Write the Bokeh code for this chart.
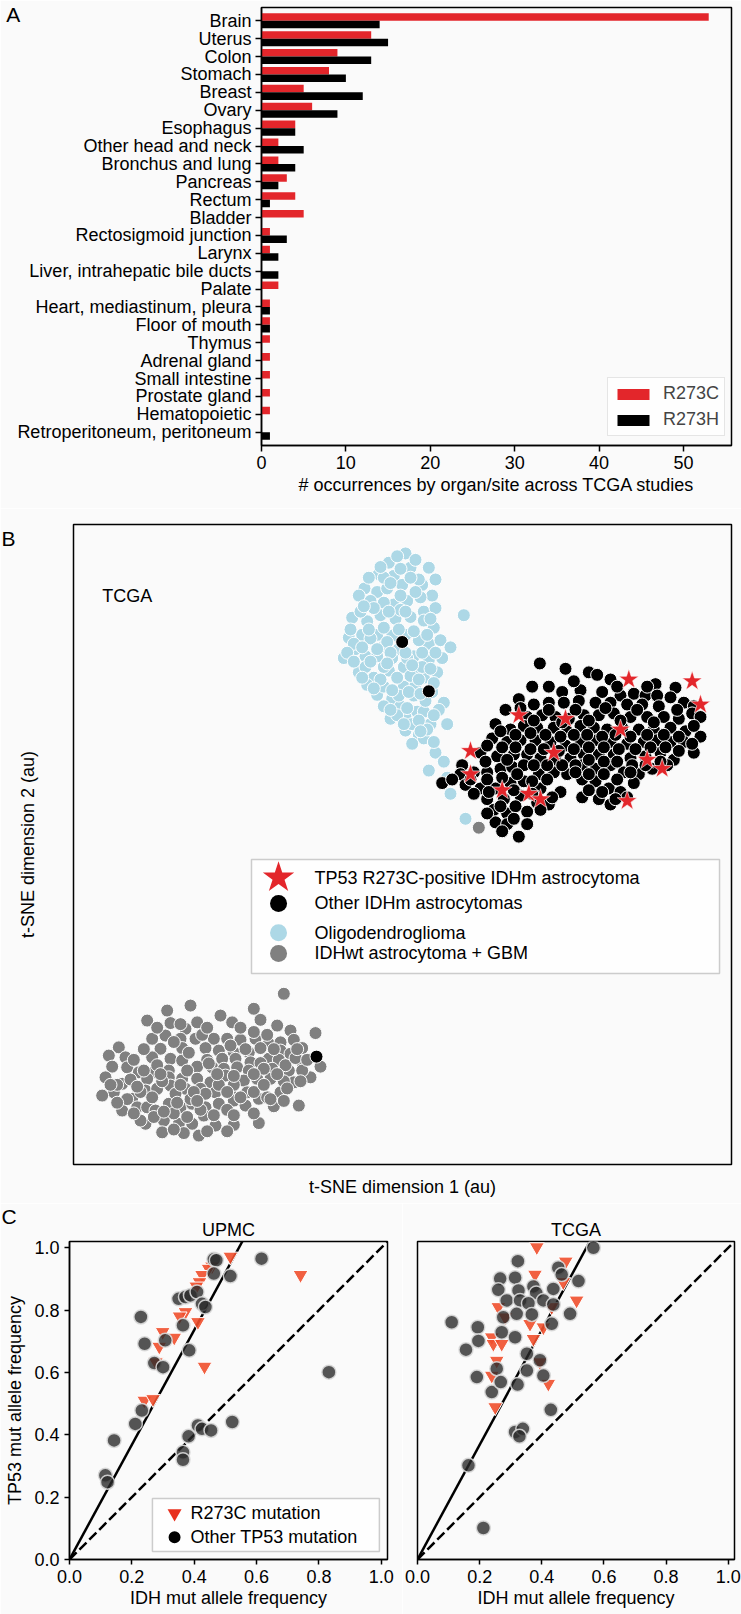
import math
from bokeh.plotting import figure
from bokeh.layouts import column, row
from bokeh.models import (Range1d, FixedTicker, Legend, LegendItem, Label,
                          ColumnDataSource, PrintfTickFormatter)
from bokeh.transform import dodge
from bokeh.core.properties import value
from bokeh.embed import file_html
from bokeh.resources import INLINE

FONT = "Liberation Sans"
BG = "#fafafa"
RED = "#e3262b"
BLUE = "#add8e6"
GRAY = "#808080"

# ---------------- Panel A data ----------------
sites = ["Brain", "Uterus", "Colon", "Stomach", "Breast", "Ovary", "Esophagus",
         "Other head and neck", "Bronchus and lung", "Pancreas", "Rectum", "Bladder",
         "Rectosigmoid junction", "Larynx", "Liver, intrahepatic bile ducts", "Palate",
         "Heart, mediastinum, pleura", "Floor of mouth", "Thymus", "Adrenal gland",
         "Small intestine", "Prostate gland", "Hematopoietic", "Retroperitoneum, peritoneum"]
r273c_counts = [53, 13, 9, 8, 5, 6, 4, 2, 2, 3, 4, 5, 1, 1, 0, 2, 1, 1, 1, 1, 1, 1, 1, 0]
r273h_counts = [14, 15, 13, 10, 12, 9, 4, 5, 4, 2, 1, 0, 3, 2, 2, 0, 1, 1, 0, 0, 0, 0, 0, 1]
count_ticks = [0, 10, 20, 30, 40, 50]

# ---------------- Panel B data (t-SNE, arbitrary units) ----------------
oligo_pts = [
    (1215, 372), (1165, 398), (1135, 430), (1092, 470), (1130, 480), (1180, 435), (1230, 412),
    (1205, 460), (1160, 470), (1180, 515), (1220, 505), (1150, 510), (1110, 505), (1055, 552),
    (1100, 562), (1140, 545), (1185, 555), (1230, 550), (1045, 608), (1085, 600), (1130, 600),
    (1175, 602), (1215, 600), (1030, 665), (1065, 640), (1095, 660), (1150, 632), (1195, 640),
    (1240, 660), (1075, 705), (1120, 720), (1165, 700), (1210, 690), (1250, 700), (1130, 768),
    (1175, 780), (1210, 745), (1245, 740), (1170, 835), (1215, 830), (1250, 815), (1215, 868),
    (1255, 880), (1200, 800), (1150, 690),
    (1285, 412), (1305, 445), (1265, 460), (1295, 490), (1260, 495), (1270, 535), (1305, 525),
    (1390, 545), (1300, 580), (1285, 625), (1320, 615), (1350, 635), (1285, 670), (1325, 665),
    (1270, 720), (1310, 705), (1295, 760), (1330, 790), (1270, 815), (1315, 810), (1340, 850),
    (1290, 850), (1270, 890), (1305, 930), (1330, 955), (1285, 980), (1340, 1000), (1350, 1045),
    (1395, 1115),
    (1190, 380), (1245, 390), (1150, 440), (1105, 440), (1255, 445), (1075, 490), (1200, 490),
    (1245, 480), (1080, 535), (1120, 525), (1200, 530), (1270, 560), (1060, 625), (1110, 610),
    (1160, 620), (1255, 615), (1130, 660), (1175, 665), (1220, 665), (1265, 690), (1095, 690),
    (1100, 740), (1150, 745), (1190, 720), (1230, 715), (1300, 735), (1150, 800), (1195, 770),
    (1240, 770), (1275, 785), (1190, 825), (1235, 850), (1280, 865), (1235, 905), (1300, 900),
    (1140, 410), (1200, 415), (1170, 455), (1230, 440), (1090, 520), (1165, 535), (1215, 535),
    (1290, 555), (1050, 585), (1105, 585), (1150, 580), (1195, 585), (1240, 590), (1280, 600),
    (1040, 650), (1085, 635), (1130, 640), (1170, 650), (1215, 650), (1265, 650), (1305, 650),
    (1060, 675), (1110, 675), (1160, 680), (1235, 685), (1290, 695), (1085, 720), (1140, 725),
    (1255, 725), (1120, 750), (1175, 755), (1225, 760), (1260, 765), (1170, 810), (1220, 805),
    (1255, 840), (1300, 825), (1210, 850), (1260, 870)]

idhwt_pts = [
    (850, 1605), (570, 1638), (500, 1652), (760, 1647), (660, 1666), (440, 1680), (510, 1687),
    (590, 1685), (695, 1685), (780, 1678), (830, 1694), (555, 1703), (870, 1708), (945, 1715),
    (455, 1731), (495, 1722), (540, 1731), (585, 1731), (640, 1731), (680, 1731), (720, 1734),
    (765, 1731), (805, 1745), (840, 1741), (880, 1734), (905, 1757),
    (355, 1755), (480, 1759), (545, 1757), (615, 1757), (655, 1764), (700, 1769), (745, 1769),
    (780, 1757), (840, 1764), (870, 1773),
    (325, 1778), (375, 1783), (455, 1783), (510, 1787), (545, 1792), (620, 1790), (665, 1787),
    (705, 1787), (750, 1797), (805, 1787), (835, 1790), (900, 1792), (960, 1809), (930, 1839),
    (335, 1809), (380, 1811), (415, 1825), (460, 1825), (505, 1820), (590, 1809), (635, 1811),
    (670, 1815), (710, 1811), (745, 1820), (780, 1799), (815, 1815), (865, 1820), (905, 1820),
    (315, 1839), (365, 1857), (440, 1843), (505, 1839), (545, 1843), (590, 1843), (630, 1853),
    (675, 1834), (730, 1848), (770, 1843), (810, 1843), (880, 1853),
    (340, 1881), (305, 1890), (395, 1899), (435, 1876), (470, 1871), (510, 1862), (555, 1871),
    (600, 1871), (645, 1881), (690, 1885), (740, 1881), (775, 1899), (800, 1895), (840, 1881),
    (365, 1932), (410, 1923), (440, 1923), (465, 1932), (505, 1913), (540, 1923), (575, 1913),
    (615, 1923), (655, 1913), (700, 1904), (735, 1918), (895, 1918),
    (435, 1969), (490, 1960), (535, 1969), (575, 1969), (610, 1946), (645, 1974), (700, 1972),
    (775, 1967), (485, 1993), (595, 2002),
    (400, 1790), (430, 1760), (470, 1805), (520, 1740), (565, 1770), (605, 1720), (625, 1800),
    (690, 1750), (735, 1760), (760, 1712), (790, 1815), (820, 1760), (855, 1805), (885, 1785),
    (350, 1860), (390, 1845), (420, 1880), (455, 1895), (485, 1850), (525, 1885), (570, 1900),
    (615, 1885), (655, 1860), (700, 1860), (720, 1895), (760, 1880), (790, 1860), (850, 1850),
    (380, 1900), (460, 1950), (520, 1940), (560, 1950), (600, 1930), (640, 1945), (680, 1930),
    (760, 1940), (820, 1920), (420, 1960), (550, 1995), (680, 1990),
    (470, 1700), (540, 1690), (620, 1700), (720, 1700), (800, 1720), (890, 1760), (920, 1790),
    (430, 1820), (480, 1830), (560, 1820), (650, 1830), (700, 1835), (760, 1830), (830, 1830),
    (900, 1850), (330, 1860), (410, 1865), (540, 1860), (580, 1880), (680, 1880), (860, 1870),
    (350, 1910), (400, 1940), (490, 1935), (530, 1910), (590, 1905), (700, 1945), (810, 1900),
    (850, 1905), (520, 1985), (620, 1990),
    (1435, 1140)]

idhm_pts = [
    (1205, 620), (1285, 758), (948, 1781),
    (1618, 680), (1695, 695), (1765, 705), (1790, 712), (1830, 725), (1965, 738), (2025, 748),
    (1645, 745), (1685, 760), (1740, 755), (1805, 760), (1860, 770), (1900, 765), (1935, 770),
    (1970, 770), (2010, 775), (2050, 790), (2080, 800), (1555, 780), (1600, 795), (1645, 790),
    (1690, 790), (1735, 785), (1785, 790), (1830, 790), (1880, 795), (1925, 795), (1975, 800),
    (1515, 810), (1580, 830), (1625, 825), (1665, 830), (1705, 835), (1750, 825), (1795, 825),
    (1840, 820), (1890, 830), (1940, 830), (1990, 830), (2035, 835), (2075, 820), (2100, 830),
    (1485, 850), (1530, 865), (1570, 855), (1610, 860), (1660, 860), (1700, 870), (1740, 855),
    (1780, 860), (1820, 865), (1865, 860), (1915, 865), (1960, 865), (2010, 860), (2055, 870),
    (2100, 885), (1475, 890), (1520, 900), (1560, 895), (1605, 895), (1650, 900), (1695, 910),
    (1740, 900), (1790, 895), (1830, 900), (1880, 905), (1930, 900), (1970, 895), (2010, 900),
    (2050, 900), (2080, 930), (1440, 930), (1490, 940), (1540, 935), (1580, 935), (1620, 945),
    (1665, 950), (1710, 945), (1750, 935), (1795, 935), (1840, 935), (1890, 945), (1935, 940),
    (1980, 930), (2020, 950), (1385, 965), (1420, 985), (1460, 985), (1500, 975), (1535, 970),
    (1570, 965), (1615, 990), (1660, 985), (1700, 990), (1745, 965), (1785, 975), (1830, 965),
    (1870, 985), (1915, 990), (1955, 975), (2000, 965), (1380, 990), (1395, 1020), (1440, 1030),
    (1485, 1030), (1530, 1015), (1570, 1010), (1620, 1030), (1680, 1040), (1745, 1005),
    (1785, 1010), (1825, 1030), (1860, 1040), (1900, 1015), (1325, 1015), (1355, 1005),
    (1460, 1060), (1510, 1060), (1560, 1050), (1610, 1070), (1645, 1075), (1745, 1055),
    (1795, 1060), (1830, 1075), (1880, 1055), (1480, 1090), (1520, 1100), (1580, 1095),
    (1485, 1125), (1520, 1130), (1580, 1130), (1555, 1165), (1505, 1150),
    (1595, 745), (1720, 730), (1850, 745), (1940, 745),
    (1560, 805), (1600, 840), (1645, 810), (1685, 845), (1725, 810), (1765, 840), (1815, 805),
    (1860, 840), (1910, 810), (1960, 845), (2030, 810), (2080, 855),
    (1500, 870), (1545, 880), (1590, 875), (1635, 880), (1680, 885), (1720, 880), (1760, 880),
    (1805, 885), (1845, 880), (1890, 885), (1940, 880), (1990, 880), (2035, 885), (2075, 905),
    (1460, 910), (1505, 915), (1545, 915), (1590, 920), (1630, 920), (1675, 925), (1720, 920),
    (1765, 915), (1810, 915), (1855, 920), (1905, 920), (1950, 915), (1995, 915), (2035, 925),
    (1455, 955), (1520, 950), (1600, 965), (1640, 965), (1685, 965), (1725, 965), (1765, 950),
    (1810, 955), (1850, 955), (1895, 965), (1935, 965), (1980, 955),
    (1410, 1005), (1460, 1005), (1505, 1000), (1550, 990), (1595, 1010), (1640, 1005),
    (1725, 985), (1765, 990), (1810, 990), (1850, 1005), (1890, 985),
    (1420, 1045), (1465, 1040), (1540, 1035), (1595, 1045), (1655, 1055), (1765, 1035),
    (1805, 1040), (1845, 1060), (1500, 1080), (1545, 1080), (1620, 1090), (1460, 1100),
    (1540, 1115)]

r273c_pts = [
    (1885, 725), (2075, 730), (2100, 795), (1555, 825), (1695, 835), (1860, 865), (1410, 925),
    (1660, 930), (1940, 950), (1985, 975), (1410, 990), (1505, 1035), (1585, 1045), (1880, 1065),
    (1620, 1060)]

# ---------------- Panel C data (allele frequencies) ----------------
upmc_other = [
    (0.115, 0.270), (0.122, 0.248), (0.143, 0.382), (0.211, 0.435), (0.232, 0.478), (0.229, 0.778),
    (0.241, 0.692), (0.272, 0.630), (0.300, 0.617), (0.307, 0.703), (0.350, 0.836), (0.372, 0.842),
    (0.388, 0.847), (0.364, 0.751), (0.384, 0.671), (0.409, 0.858), (0.425, 0.820), (0.436, 0.810),
    (0.463, 0.963), (0.471, 0.960), (0.463, 0.917), (0.516, 0.909), (0.616, 0.965), (0.832, 0.601),
    (0.364, 0.344), (0.364, 0.320), (0.382, 0.395), (0.412, 0.430), (0.425, 0.419), (0.454, 0.414),
    (0.522, 0.441)]
upmc_r273c = [
    (0.516, 0.972), (0.741, 0.913), (0.457, 0.940), (0.446, 0.933), (0.425, 0.913), (0.417, 0.890),
    (0.407, 0.876), (0.372, 0.794), (0.353, 0.780), (0.412, 0.762), (0.299, 0.730), (0.336, 0.712),
    (0.288, 0.683), (0.277, 0.633), (0.433, 0.619), (0.240, 0.510), (0.268, 0.515)]
tcga_other = [
    (0.566, 1.000), (0.323, 0.957), (0.453, 0.936), (0.464, 0.914), (0.518, 0.893), (0.266, 0.901),
    (0.314, 0.904), (0.260, 0.865), (0.325, 0.863), (0.373, 0.876), (0.382, 0.855), (0.437, 0.868),
    (0.287, 0.831), (0.330, 0.831), (0.357, 0.822), (0.405, 0.831), (0.437, 0.818), (0.491, 0.788),
    (0.110, 0.761), (0.194, 0.745), (0.196, 0.701), (0.156, 0.673), (0.276, 0.777), (0.271, 0.729),
    (0.314, 0.713), (0.319, 0.788), (0.368, 0.786), (0.432, 0.756), (0.352, 0.660), (0.394, 0.639),
    (0.352, 0.606), (0.405, 0.590), (0.255, 0.612), (0.191, 0.585), (0.239, 0.537), (0.268, 0.569),
    (0.322, 0.561), (0.429, 0.480), (0.314, 0.409), (0.339, 0.419), (0.328, 0.395), (0.164, 0.302),
    (0.212, 0.101)]
tcga_r273c = [
    (0.384, 1.002), (0.477, 0.956), (0.378, 0.914), (0.512, 0.831), (0.260, 0.810), (0.282, 0.777),
    (0.362, 0.756), (0.405, 0.745), (0.373, 0.708), (0.239, 0.713), (0.244, 0.692), (0.271, 0.692),
    (0.255, 0.638), (0.239, 0.590), (0.394, 0.633), (0.421, 0.564), (0.250, 0.489), (0.432, 0.810),
    (0.469, 0.890)]
upmc_fit_slope = 1.84
tcga_fit_slope = 1.84
af_ticks = [0.0, 0.2, 0.4, 0.6, 0.8, 1.0]


def xs(pts):
    return [p[0] for p in pts]


def ys(pts):
    return [p[1] for p in pts]


def base_style(p):
    p.background_fill_color = BG
    p.border_fill_color = BG
    p.outline_line_color = "black"
    p.outline_line_width = 1.5
    p.grid.visible = False


def style_axis(ax, size="18px"):
    ax.major_label_text_font = FONT
    ax.major_label_text_font_size = size
    ax.major_label_text_color = "black"
    ax.axis_label_text_font = FONT
    ax.axis_label_text_font_size = size
    ax.axis_label_text_font_style = "normal"
    ax.axis_label_text_color = "black"
    ax.axis_line_color = "black"
    ax.axis_line_width = 1.5
    ax.major_tick_line_color = "black"
    ax.major_tick_line_width = 1.5
    ax.major_tick_in = 0
    ax.minor_tick_line_color = None


def side_letter(p, txt, x, y, side):
    # panel letter in a side panel (not clipped by the frame), positioned in data units
    p.add_layout(Label(x=x, y=y, x_units="data", y_units="data", text=txt,
                       text_font=FONT, text_font_size="21px", text_color="black",
                       text_baseline="middle", text_align="left"), side)


# ================= Panel A =================
n = len(sites)
srcA = ColumnDataSource(dict(idx=list(range(n)), c=r273c_counts, h=r273h_counts))
pA = figure(width=741, height=508, x_range=Range1d(0, 55.7),
            y_range=Range1d(n - 1 + 0.745, -0.745),
            output_backend="svg", toolbar_location=None,
            min_border_left=258, min_border_right=10, min_border_top=7, min_border_bottom=63)
base_style(pA)
rc = pA.hbar(y=dodge("idx", -0.21), right="c", left=0, height=0.42, source=srcA,
             fill_color=RED, line_color=None)
rh = pA.hbar(y=dodge("idx", 0.21), right="h", left=0, height=0.42, source=srcA,
             fill_color="black", line_color=None)
for ax in (pA.xaxis[0], pA.yaxis[0]):
    style_axis(ax)
    ax.major_tick_out = 6
    ax.major_label_standoff = 4
pA.yaxis.ticker = FixedTicker(ticks=list(range(n)))
pA.yaxis.major_label_overrides = {i: s for i, s in enumerate(sites)}
pA.xaxis.ticker = FixedTicker(ticks=count_ticks)
pA.xaxis.axis_label = "# occurrences by organ/site across TCGA studies"
pA.xaxis.axis_label_standoff = 3
legA = Legend(items=[LegendItem(label="R273C", renderers=[rc]),
                     LegendItem(label="R273H", renderers=[rh])],
              location=(346, 9), padding=5, spacing=5, glyph_width=40, glyph_height=14,
              label_standoff=10, label_text_font=FONT, label_text_font_size="18px",
              border_line_color="#cccccc", border_line_width=1.5,
              background_fill_color="white", background_fill_alpha=0.8)
pA.add_layout(legA)
side_letter(pA, "A", -30.26, -0.326, "left")

# ================= Panel B =================
xrB = Range1d(219, 2193)
yrB = Range1d(2083, 291)
pB = figure(width=741, height=695, x_range=xrB, y_range=yrB,
            output_backend="svg", toolbar_location=None,
            min_border_left=73, min_border_right=10, min_border_top=16, min_border_bottom=39)
base_style(pB)
for ax in (pB.xaxis[0], pB.yaxis[0]):
    style_axis(ax)
    ax.major_tick_out = 0
    ax.axis_line_color = None
    ax.major_tick_line_color = None
pB.xaxis.ticker = FixedTicker(ticks=[])
pB.xaxis.major_label_standoff = 0
pB.xaxis.axis_label = "t-SNE dimension 1 (au)"
pB.xaxis.axis_label_standoff = 12
# left axis: carries only the panel letter "B" as a label, plus the axis title
b_pos = 330
pB.yaxis.ticker = FixedTicker(ticks=[b_pos])
pB.yaxis.major_label_overrides = {b_pos: "B"}
pB.yaxis.major_label_text_font_size = "21px"
pB.yaxis.major_label_standoff = 58
pB.yaxis.axis_label = "t-SNE dimension 2 (au)"
pB.yaxis.axis_label_standoff = -40

pB.scatter(xs(oligo_pts), ys(oligo_pts), size=13, fill_color=BLUE, line_color="white", line_width=1)
pB.scatter(xs(idhwt_pts), ys(idhwt_pts), size=13, fill_color=GRAY, line_color="white", line_width=1)
pB.scatter(xs(idhm_pts), ys(idhm_pts), size=13, fill_color="black", line_color="white", line_width=1)
pB.scatter(xs(r273c_pts), ys(r273c_pts), size=21, marker="star", fill_color=RED,
           line_color="white", line_width=0.6)


def fx(r, f):
    # fraction f of the frame, from the left
    return r.start + f * (r.end - r.start)


def fy(r, f):
    # fraction f of the frame, from the top (y range is flipped: end is the top)
    return r.end + f * (r.start - r.end)


pB.text(x=[fx(xrB, 0.0436)], y=[fy(yrB, 0.111)], text=["TCGA"], text_font=value(FONT),
        text_font_size="18px", text_color="black", text_baseline="middle")
leg_rows = [0.5519, 0.5921, 0.6378, 0.6702]
pB.quad(left=fx(xrB, 0.2705), right=fx(xrB, 0.9818), top=fy(yrB, 0.5234), bottom=fy(yrB, 0.7015),
        fill_color="white", fill_alpha=0.8, line_color="#cccccc", line_width=1.5)
lgx = fx(xrB, 0.3116)
pB.scatter([lgx], [fy(yrB, leg_rows[0])], size=33, marker="star", fill_color=RED, line_color=None)
pB.scatter([lgx] * 3, [fy(yrB, f) for f in leg_rows[1:]], size=17,
           fill_color=["black", BLUE, GRAY], line_color=None)
pB.text(x=[fx(xrB, 0.3663)] * 4, y=[fy(yrB, f) for f in leg_rows],
        text=["TP53 R273C-positive IDHm astrocytoma", "Other IDHm astrocytomas",
              "Oligodendroglioma", "IDHwt astrocytoma + GBM"],
        text_font=value(FONT), text_font_size="18px", text_color="black", text_baseline="middle")


# ================= Panel C =================
def panel_c(title, other, mut, slope, w, left, right, show_y, with_legend):
    xr = Range1d(0, 1.02)
    yr = Range1d(0, 1.02)
    p = figure(width=w, height=411, x_range=xr, y_range=yr, title=title,
               y_axis_location="left" if show_y else None,
               output_backend="svg", toolbar_location=None,
               min_border_left=left, min_border_right=right, min_border_top=38, min_border_bottom=55)
    base_style(p)
    p.title.align = "center"
    p.title.text_font = FONT
    p.title.text_font_size = "18px"
    p.title.text_font_style = "normal"
    p.title.text_color = "black"
    p.title.standoff = 3
    axes = [p.xaxis[0]] + ([p.yaxis[0]] if show_y else [])
    for ax in axes:
        style_axis(ax)
        ax.ticker = FixedTicker(ticks=af_ticks)
        ax.formatter = PrintfTickFormatter(format="%.1f")
        ax.major_tick_out = 5
        ax.major_label_standoff = 5
    p.xaxis.axis_label = "IDH mut allele frequency"
    p.xaxis.axis_label_standoff = 2
    if show_y:
        p.yaxis.axis_label = "TP53 mut allele frequency"
        p.yaxis.axis_label_standoff = 6
    top = yr.end
    p.line([0, top / slope], [0, top], line_color="black", line_width=2.5)
    p.line([0, xr.end], [0, yr.end], line_color="black", line_width=2.5, line_dash="10 4")
    p.scatter(xs(mut), ys(mut), marker="inverted_triangle", size=15, fill_color="#ef4f2c",
              fill_alpha=0.9, line_color="white", line_width=1)
    p.scatter(xs(other), ys(other), size=14, fill_color="#2b2b2b", fill_alpha=0.8,
              line_color="#d9d9d9", line_width=1.5, line_alpha=0.9)
    if with_legend:
        p.quad(left=0.266, right=0.994, bottom=0.026, top=0.196, fill_color="white",
               fill_alpha=0.8, line_color="#cccccc", line_width=1.5)
        p.scatter([0.337], [0.148], marker="inverted_triangle", size=14, fill_color="#e8301e",
                  line_color=None)
        p.scatter([0.337], [0.071], size=12, fill_color="black", line_color=None)
        p.text(x=[0.388, 0.388], y=[0.148, 0.071], text=["R273C mutation", "Other TP53 mutation"],
               text_font=value(FONT), text_font_size="18px", text_color="black",
               text_baseline="middle")
    return p


pC1 = panel_c("UPMC", upmc_other, upmc_r273c, upmc_fit_slope, 402, 69, 15, True, True)
pC2 = panel_c("TCGA", tcga_other, tcga_r273c, tcga_fit_slope, 339, 15, 7, False, False)
side_letter(pC1, "C", -0.218, 1.100, "right")

layout = column(row(pA), row(pB), row(pC1, pC2, spacing=0), spacing=0)
open("out.html", "w").write(file_html(layout, INLINE))
